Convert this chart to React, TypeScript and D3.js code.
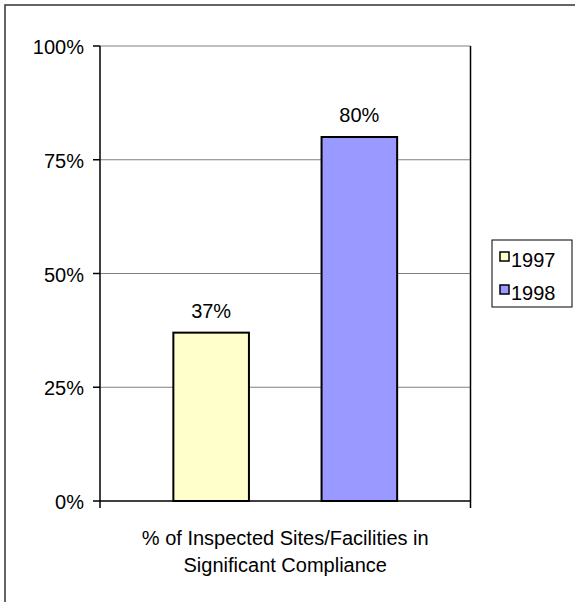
import React from "react";
import * as d3 from "d3";

const categories = ["% of Inspected Sites/Facilities in Significant Compliance"];
const categoryLines = ["% of Inspected Sites/Facilities in", "Significant Compliance"];
const seriesNames = ["1997", "1998"];
const seriesValues = [37, 80];
const seriesColors = ["#FFFFCC", "#9999FF"];
const yTicks = [0, 25, 50, 75, 100];

const W = 575;
const H = 602;
const FONT = "'Liberation Sans', Arial, sans-serif";

export default function App() {
  const plot = { left: 100, right: 470.5, top: 46, bottom: 501 };
  const y = d3.scaleLinear().domain([0, 100]).range([plot.bottom, plot.top]);
  const xOuter = d3.scaleBand<string>().domain(categories).range([plot.left, plot.right]).padding(0);
  const cat = categories[0];
  const x = d3
    .scaleBand<string>()
    .domain(seriesNames)
    .range([xOuter(cat)!, xOuter(cat)! + xOuter.bandwidth()])
    .paddingInner(0.49)
    .paddingOuter(0.495);
  const fmt = (v: number) => `${v}%`;
  const cx = xOuter(cat)! + xOuter.bandwidth() / 2;

  const legend = { x: 492, y: 240, w: 80, h: 67 };

  return (
    <svg
      width={W}
      height={H}
      style={{ position: "fixed", left: 0, top: 0, display: "block", background: "#fff" }}
      fontFamily={FONT}
    >
      <rect x={5} y={5} width={W} height={H} fill="#fff" stroke="#333" strokeWidth={1.5} />
      {/* gridlines */}
      {yTicks.filter((t) => t > 0).map((t) => (
        <line key={t} x1={plot.left} x2={plot.right} y1={y(t)} y2={y(t)} stroke="#808080" strokeWidth={1} />
      ))}
      {/* right border */}
      <line x1={plot.right} x2={plot.right} y1={plot.top} y2={plot.bottom + 7} stroke="#000" strokeWidth={1.5} />
      {/* bars */}
      {seriesNames.map((s, i) => (
        <g key={s}>
          <rect
            x={x(s)}
            y={y(seriesValues[i])}
            width={x.bandwidth()}
            height={y(0) - y(seriesValues[i])}
            fill={seriesColors[i]}
            stroke="#000"
            strokeWidth={2}
          />
          <text
            x={x(s)! + x.bandwidth() / 2}
            y={y(seriesValues[i]) - 15}
            textAnchor="middle"
            fontSize={20}
            fill="#000"
          >
            {fmt(seriesValues[i])}
          </text>
        </g>
      ))}
      {/* y axis */}
      <line x1={plot.left} x2={plot.left} y1={plot.top} y2={plot.bottom + 7} stroke="#000" strokeWidth={1.5} />
      {yTicks.map((t) => (
        <g key={t}>
          <line x1={plot.left - 7} x2={plot.left} y1={y(t)} y2={y(t)} stroke="#000" strokeWidth={1.5} />
          <text x={plot.left - 16} y={y(t) + 8} textAnchor="end" fontSize={20} fill="#000">
            {fmt(t)}
          </text>
        </g>
      ))}
      {/* x axis */}
      <line x1={plot.left} x2={plot.right} y1={plot.bottom} y2={plot.bottom} stroke="#000" strokeWidth={1.5} />
      {categoryLines.map((l, i) => (
        <text key={i} x={cx} y={545 + i * 27} textAnchor="middle" fontSize={20} fill="#000">
          {l}
        </text>
      ))}
      {/* legend */}
      <rect x={legend.x} y={legend.y} width={legend.w} height={legend.h} fill="#fff" stroke="#000" strokeWidth={1} />
      {seriesNames.map((s, i) => (
        <g key={s}>
          <rect
            x={legend.x + 8}
            y={legend.y + 12 + i * 33}
            width={9}
            height={9}
            fill={seriesColors[i]}
            stroke="#000"
            strokeWidth={1.5}
          />
          <text x={legend.x + 19} y={legend.y + 27 + i * 33} fontSize={20} fill="#000">
            {s}
          </text>
        </g>
      ))}
    </svg>
  );
}
